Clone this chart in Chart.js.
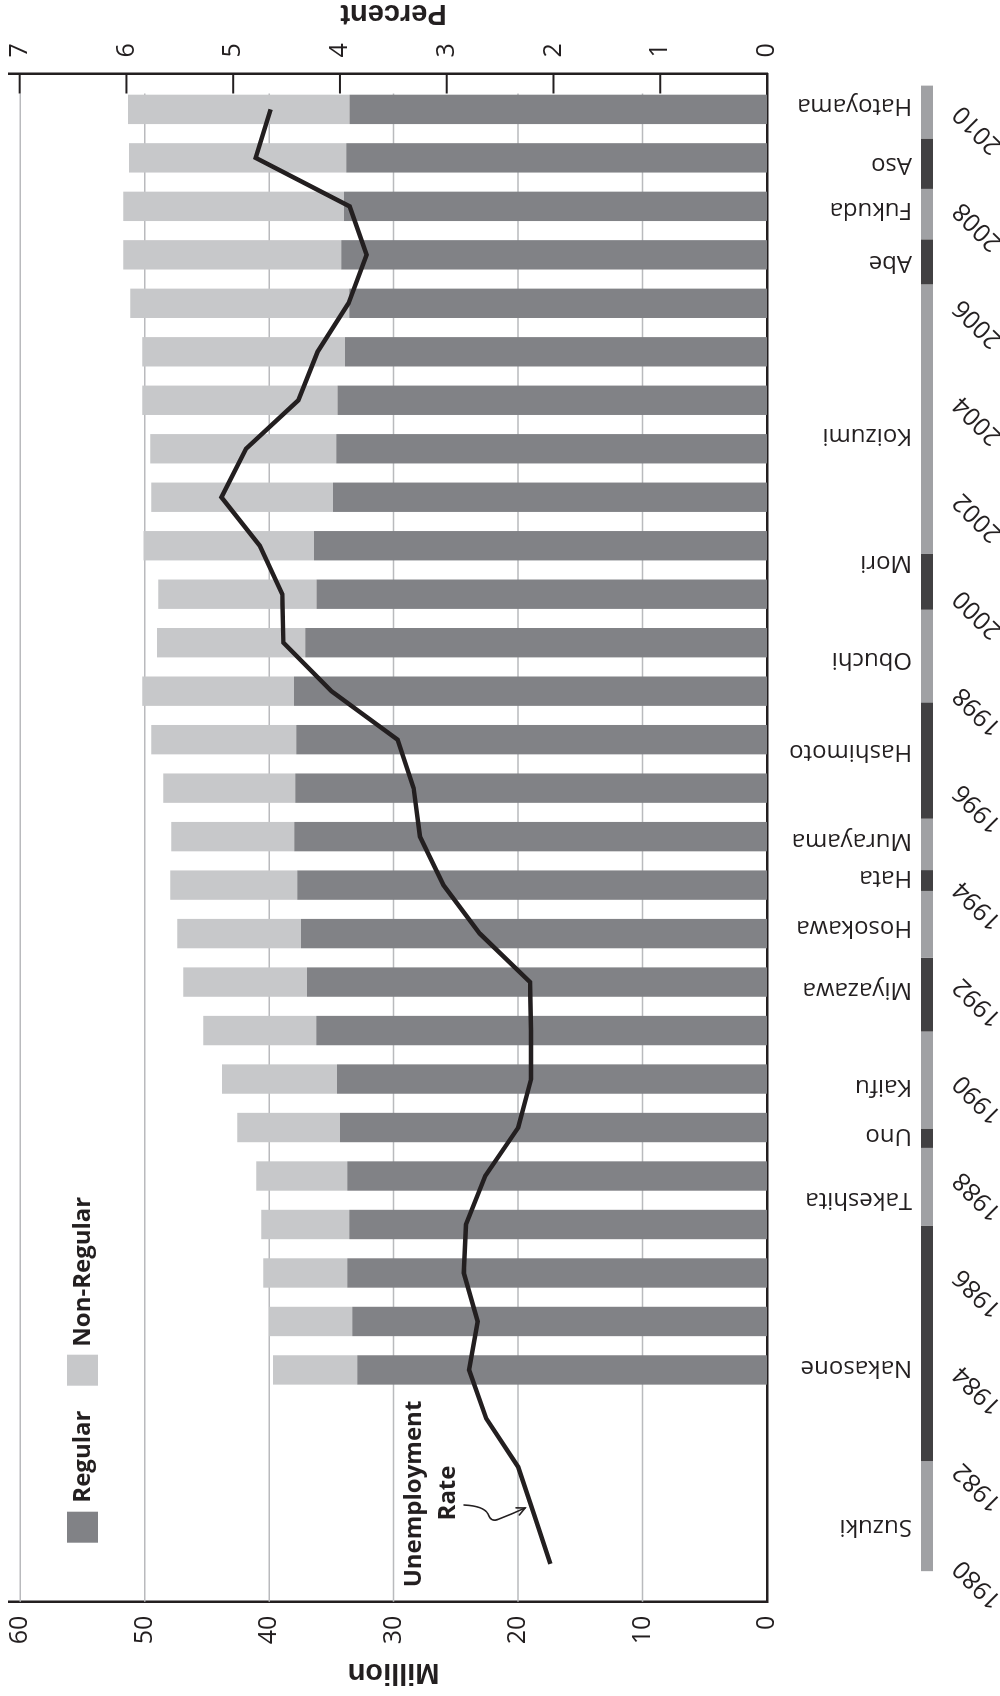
<!DOCTYPE html>
<html><head><meta charset="utf-8">
<script src="https://cdn.jsdelivr.net/npm/chart.js@4.4.1/dist/chart.umd.min.js"></script>
<style>
html,body{margin:0;padding:0;background:#fff;overflow:hidden;width:1000px;height:1696px;}
#wrap{position:absolute;left:0;top:0;width:1696px;height:1000px;transform-origin:0 0;transform:translate(0px,1696px) rotate(-90deg);}
canvas{display:block;}
</style></head><body>
<div id="wrap"><canvas id="c" width="1696" height="1000" style="width:1696px;height:1000px"></canvas></div>
<script>
// ---- data ----
const years = [1980,1981,1982,1983,1984,1985,1986,1987,1988,1989,1990,1991,1992,1993,1994,1995,1996,1997,1998,1999,2000,2001,2002,2003,2004,2005,2006,2007,2008,2009,2010];
const unemployment = [2.03,2.18,2.33,2.63,2.79,2.71,2.84,2.82,2.64,2.33,2.21,2.21,2.22,2.69,3.03,3.25,3.31,3.46,4.08,4.53,4.54,4.75,5.11,4.88,4.39,4.21,3.92,3.75,3.91,4.79,4.65];
const barYears = [1984,1985,1986,1987,1988,1989,1990,1991,1992,1993,1994,1995,1996,1997,1998,1999,2000,2001,2002,2003,2004,2005,2006,2007,2008,2009,2010];
const regular = [32.93,33.33,33.73,33.57,33.73,34.30,34.54,36.22,36.95,37.43,37.75,37.99,37.90,37.83,38.00,37.10,36.20,36.39,34.86,34.60,34.50,33.90,33.57,34.20,33.98,33.80,33.55];
const nonRegular = [6.75,6.67,6.75,7.07,7.31,8.27,9.24,9.08,9.95,9.96,10.20,9.88,10.60,11.65,12.20,11.90,12.70,13.71,14.62,14.96,15.70,16.30,17.59,17.53,17.75,17.45,17.78];
const yearTicks = [1980,1982,1984,1986,1988,1990,1992,1994,1996,1998,2000,2002,2004,2006,2008,2010];
const millionTicks = [0,10,20,30,40,50,60];
const percentTicks = [0,1,2,3,4,5,6,7];
const pmNames = ['Suzuki','Nakasone','Takeshita','Uno','Kaifu','Miyazawa','Hosokawa','Hata','Murayama','Hashimoto','Obuchi','Mori','Koizumi','Abe','Fukuda','Aso','Hatoyama'];
const pmStart = [1979.85,1982.12,1986.97,1988.58,1988.98,1990.98,1992.50,1993.88,1994.31,1995.37,1997.77,1999.68,2000.83,2006.39,2007.32,2008.36,2009.40];
const pmEnd   = [1982.12,1986.97,1988.58,1988.98,1990.98,1992.50,1993.88,1994.31,1995.37,1997.77,1999.68,2000.83,2006.39,2007.32,2008.36,2009.40,2010.49];
const pmLabelAt = [1980.77,1984.04,1987.50,1988.83,1989.83,1991.85,1993.12,1994.14,1994.91,1996.75,1998.64,2000.65,2003.26,2006.84,2007.93,2008.85,2010.08];

// ---- styles ----
const INK = '#231f20';
const DARK = '#818286';
const LIGHT = '#c7c8ca';
const GRID = '#b9babd';
const STRIP_LIGHT = '#a0a1a4';
const STRIP_DARK = '#414042';
const FONT = "'Open Sans', 'DejaVu Sans', sans-serif";
const TITLE_FONT = "bold 29px 'Liberation Sans', Arial, sans-serif";

Chart.defaults.font.family = FONT;
Chart.defaults.color = INK;

const decor = {
  id: 'decor',
  beforeDatasetsDraw(chart) {
    const {ctx, chartArea: a} = chart;
    const y = chart.scales.y;
    ctx.save();
    ctx.strokeStyle = GRID; ctx.lineWidth = 1.5;
    millionTicks.forEach(v => {
      if (v === 0) return;
      const py = y.getPixelForValue(v);
      ctx.beginPath(); ctx.moveTo(a.left, py); ctx.lineTo(a.right - 20, py); ctx.stroke();
    });
    ctx.restore();
  },
  afterDatasetsDraw(chart) {
    const {ctx, chartArea: a} = chart;
    const y1 = chart.scales.y1;
    ctx.save();
    ctx.strokeStyle = INK; ctx.lineWidth = 2;
    percentTicks.forEach(v => {
      const py = y1.getPixelForValue(v);
      ctx.beginPath(); ctx.moveTo(a.right, py); ctx.lineTo(a.right - 20, py); ctx.stroke();
    });
    ctx.restore();
  },
  afterDraw(chart) {
    const {ctx, chartArea: a} = chart;
    const x = chart.scales.x, y = chart.scales.y;
    const midY = y.getPixelForValue(30);
    ctx.save();
    // axis titles
    ctx.fillStyle = INK; ctx.font = TITLE_FONT; ctx.textAlign = 'center'; ctx.textBaseline = 'middle';
    ctx.save(); ctx.translate(24, midY); ctx.rotate(-Math.PI/2); ctx.fillText('Million', 0, 0); ctx.restore();
    ctx.save(); ctx.translate(1683, midY); ctx.rotate(-Math.PI/2); ctx.fillText('Percent', 0, 0); ctx.restore();
    // legend
    const lx = a.left + 59, ly = a.top + 58;
    ctx.font = "bold 24px " + FONT; ctx.textAlign = 'left'; ctx.textBaseline = 'middle';
    ctx.fillStyle = DARK; ctx.fillRect(lx, ly, 31, 31);
    ctx.fillStyle = INK; ctx.fillText('Regular', lx + 40, ly + 16);
    ctx.fillStyle = LIGHT; ctx.fillRect(lx + 157, ly, 31, 31);
    ctx.fillStyle = INK; ctx.fillText('Non-Regular', lx + 196, ly + 16);
    // annotation
    ctx.font = "bold 24px " + FONT; ctx.textAlign = 'center'; ctx.textBaseline = 'alphabetic';
    ctx.fillText('Unemployment', 202, 421);
    ctx.fillText('Rate', 203, 455);
    ctx.strokeStyle = INK; ctx.lineWidth = 1.6; ctx.lineCap = 'round';
    ctx.beginPath();
    ctx.moveTo(191, 464);
    ctx.quadraticCurveTo(190, 484, 182, 488);
    ctx.quadraticCurveTo(173, 491, 177, 499);
    ctx.quadraticCurveTo(182, 512, 188, 525);
    ctx.stroke();
    const ang = Math.atan2(13, 6);
    ctx.beginPath();
    ctx.moveTo(188 - 9*Math.cos(ang - 0.45), 525 - 9*Math.sin(ang - 0.45));
    ctx.lineTo(188, 525);
    ctx.lineTo(188 - 9*Math.cos(ang + 0.45), 525 - 9*Math.sin(ang + 0.45));
    ctx.stroke();
    // prime minister strip
    const sTop = a.bottom + 154, sH = 12;
    pmNames.forEach((n, i) => {
      const x0 = x.getPixelForValue(pmStart[i]), x1 = x.getPixelForValue(pmEnd[i]);
      ctx.fillStyle = (i % 2 === 0) ? STRIP_LIGHT : STRIP_DARK;
      ctx.fillRect(x0, sTop, x1 - x0, sH);
    });
    ctx.fillStyle = INK; ctx.font = "24px " + FONT; ctx.textAlign = 'left'; ctx.textBaseline = 'middle';
    pmNames.forEach((n, i) => {
      const cx = x.getPixelForValue(pmLabelAt[i]);
      ctx.save(); ctx.translate(cx, sTop - 9); ctx.rotate(-Math.PI/2); ctx.fillText(n, 0, 0); ctx.restore();
    });
    ctx.restore();
  }
};

new Chart(document.getElementById('c'), {
  type: 'bar',
  data: {
    datasets: [
      { type: 'line', label: 'Unemployment Rate', data: years.map((yr, i) => ({x: yr, y: unemployment[i]})),
        yAxisID: 'y1', borderColor: INK, backgroundColor: INK, borderWidth: 4.5, pointRadius: 0,
        tension: 0, borderJoinStyle: 'miter', order: 0 },
      { label: 'Regular', data: barYears.map((yr, i) => ({x: yr, y: regular[i]})), yAxisID: 'y',
        backgroundColor: DARK, stack: 'emp', grouped: false, barPercentage: 0.606, categoryPercentage: 1, order: 1 },
      { label: 'Non-Regular', data: barYears.map((yr, i) => ({x: yr, y: nonRegular[i]})), yAxisID: 'y',
        backgroundColor: LIGHT, stack: 'emp', grouped: false, barPercentage: 0.606, categoryPercentage: 1, order: 1 }
    ]
  },
  options: {
    responsive: false, animation: false, devicePixelRatio: 1,
    layout: { padding: { top: 9, left: 0, right: 0, bottom: 0 } },
    plugins: { legend: { display: false }, tooltip: { enabled: false } },
    scales: {
      x: { type: 'linear', min: 1979.22, max: 2010.74, offset: false,
        grid: { display: false, drawTicks: false, offset: false },
        border: { display: true, color: INK, width: 2.5 },
        ticks: { autoSkip: false, minRotation: 45, maxRotation: 45, padding: 180, color: INK,
          font: { size: 25, family: FONT }, callback: v => String(v) },
        afterBuildTicks: s => { s.ticks = yearTicks.map(v => ({value: v})); },
        afterFit: s => { s.height = 233; s.paddingLeft = 0; s.paddingRight = 0; s.paddingTop = 0; s.paddingBottom = 0; } },
      y: { position: 'left', stacked: true, min: 0, max: 60.9,
        grid: { display: false, drawTicks: false },
        border: { display: true, color: INK, width: 2.5 },
        ticks: { padding: 14, color: INK, font: { size: 25, family: FONT } },
        afterBuildTicks: s => { s.ticks = millionTicks.map(v => ({value: v})); },
        afterFit: s => { s.width = 94.3; s.paddingTop = 0; s.paddingBottom = 0; s.paddingLeft = 0; s.paddingRight = 0; } },
      y1: { position: 'right', min: 0, max: 7.1,
        grid: { display: false, drawTicks: false },
        border: { display: true, color: INK, width: 2.5 },
        ticks: { padding: 16, color: INK, font: { size: 25, family: FONT } },
        afterBuildTicks: s => { s.ticks = percentTicks.map(v => ({value: v})); },
        afterFit: s => { s.width = 73.5; s.paddingTop = 0; s.paddingBottom = 0; s.paddingLeft = 0; s.paddingRight = 0; } }
    }
  },
  plugins: [decor]
});
</script>
</body></html>
